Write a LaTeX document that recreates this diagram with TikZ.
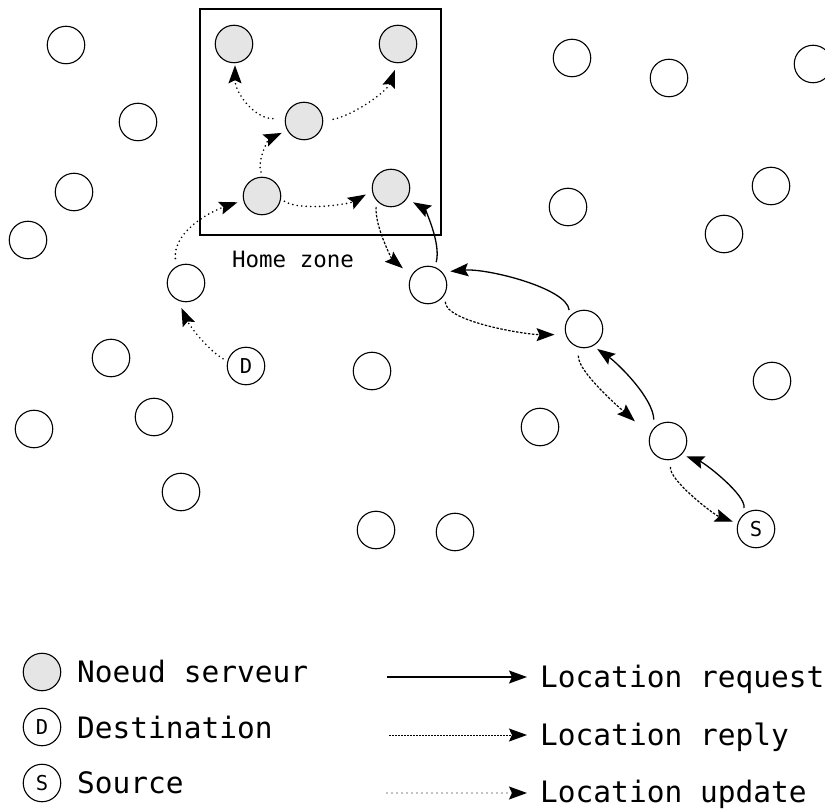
\documentclass[tikz,border=0pt]{standalone}
\usepackage{fontspec}
\setmainfont{DejaVu Sans Mono}
\usetikzlibrary{arrows.meta}
\tikzset{
 pc/.style={circle,draw,line width=1.1pt,minimum size=37.5pt,inner sep=0pt},
 srv/.style={pc,fill=gray!20},
 lbl/.style={pc,font=\fontsize{20.5}{21}\selectfont},
 tipped/.style={-{Stealth[length=18pt,width=13pt,inset=3pt]}},
 req/.style={tipped,line width=1.3pt},
 rep/.style={tipped,line width=1.2pt,dash pattern=on 2.5pt off 1.5pt},
 upd/.style={tipped,line width=1.8pt,line cap=round,dash pattern=on 0pt off 4.5pt},
 big/.style={anchor=base west,inner sep=0pt,font=\fontsize{29.5}{30}\selectfont},
}
\begin{document}
\begin{tikzpicture}[x=1pt,y=1pt]
\useasboundingbox (0,0) rectangle (825,-810);
\clip (0,0) rectangle (825,-810);
% home zone
\draw[line width=1.2pt] (200,-9) rectangle (441,-235);
\node[anchor=base,font=\fontsize{22.5}{23}\selectfont] (hz) at (293,-268) {Home zone};
% plain nodes
\node[pc] (n1) at (66,-45) {};
\node[pc] (n2) at (138,-122) {};
\node[pc] (n3) at (74,-192) {};
\node[pc] (n4) at (28,-240) {};
\node[pc] (n5) at (186,-283) {};
\node[pc] (n6) at (111,-358) {};
\node[pc] (n7) at (154,-417) {};
\node[pc] (n8) at (34,-429) {};
\node[pc] (n9) at (181,-492) {};
\node[pc] (n10) at (372,-371) {};
\node[pc] (n11) at (376,-530) {};
\node[pc] (n12) at (455,-532) {};
\node[pc] (n13) at (572,-58) {};
\node[pc] (n14) at (669,-78) {};
\node[pc] (n15) at (813,-64) {};
\node[pc] (n16) at (724,-234) {};
\node[pc] (n17) at (771,-186) {};
\node[pc] (n18) at (568,-207) {};
\node[pc] (n19) at (540,-427) {};
\node[pc] (n20) at (772,-381) {};
\node[pc] (c1) at (428,-285) {};
\node[pc] (c2) at (584,-329) {};
\node[pc] (c3) at (668,-441) {};
\node[lbl] (D) at (246,-366) {D};
\node[lbl] (S) at (756,-529) {S};
% servers
\node[srv] (g1) at (234,-44) {};
\node[srv] (g2) at (398,-44) {};
\node[srv] (g3) at (304,-121) {};
\node[srv] (g4) at (262,-196) {};
\node[srv] (g5) at (391,-188) {};
% location update
\draw[upd,shorten <=5pt,shorten >=8pt] (D.166) .. controls +(149:25) and +(-66:25) .. (n5.246);
\draw[upd,shorten <=8pt,shorten >=6pt] (n5.121) .. controls +(95:35) and +(199:35) .. (g4.193);
\draw[upd,shorten <=5pt,shorten >=6pt] (g4.88) .. controls +(110:18) and +(205:20) .. (g3.209);
\draw[upd,shorten <=12pt,shorten >=2pt] (g3.173) .. controls +(180:30) and +(-90:30) .. (g1.-87);
\draw[upd,shorten <=10pt,shorten >=7pt] (g3.0) .. controls +(10:30) and +(-110:30) .. (g2.-92);
\draw[upd,shorten <=4pt,shorten >=7pt] (g4.-10) .. controls +(-30:25) and +(210:25) .. (g5.189);
% location reply
\draw[rep,shorten <=6pt,shorten >=11pt] (g5.222) .. controls +(-95:25) and +(140:25) .. (c1.150);
\draw[rep,shorten <=8pt,shorten >=11pt] (c1.-27) .. controls +(-90:28) and +(180:40) .. (c2.197);
\draw[rep,shorten <=8pt,shorten >=20pt] (c2.255) .. controls +(-95:25) and +(138:25) .. (c3.161);
\draw[rep,shorten <=7pt,shorten >=5pt] (c3.-79) .. controls +(-100:20) and +(160:25) .. (S.163);
% location request
\draw[req,shorten <=7pt,shorten >=5pt] (S.133) .. controls +(80:20) and +(-20:25) .. (c3.-45);
\draw[req,shorten <=8pt,shorten >=5pt] (c3.136) .. controls +(92:30) and +(-35:30) .. (c2.-62);
\draw[req,shorten <=6pt,shorten >=8pt] (c2.138) .. controls +(95:28) and +(5:45) .. (c1.42);
\draw[req,shorten <=5pt,shorten >=7pt] (c1.69) .. controls +(75:25) and +(-30:20) .. (g5.-34);
% legend left
\node[srv] (lg) at (42,-672) {};
\node[lbl] (lD) at (42,-727) {D};
\node[lbl] (lS) at (42,-783) {S};
\node[big] (t1) at (77,-682) {Noeud serveur};
\node[big] (t2) at (77,-738) {Destination};
\node[big] (t3) at (77,-793) {Source};
% legend right
\coordinate (a1) at (387,-677); \coordinate (b1) at (527,-677);
\coordinate (a2) at (389,-735); \coordinate (b2) at (527,-735);
\coordinate (a3) at (387,-793); \coordinate (b3) at (527,-793);
\draw[req] (a1) -- (b1);
\draw[tipped,line width=1pt,dash pattern=on 2pt off 1pt] (a2) -- (b2);
\draw[tipped,line width=1.3pt,line cap=round,dash pattern=on 0pt off 5pt] (a3) -- (b3);
\node[big] (t4) at (540,-687) {Location request};
\node[big] (t5) at (540,-745) {Location reply};
\node[big] (t6) at (540,-802) {Location update};
\end{tikzpicture}
\end{document}
